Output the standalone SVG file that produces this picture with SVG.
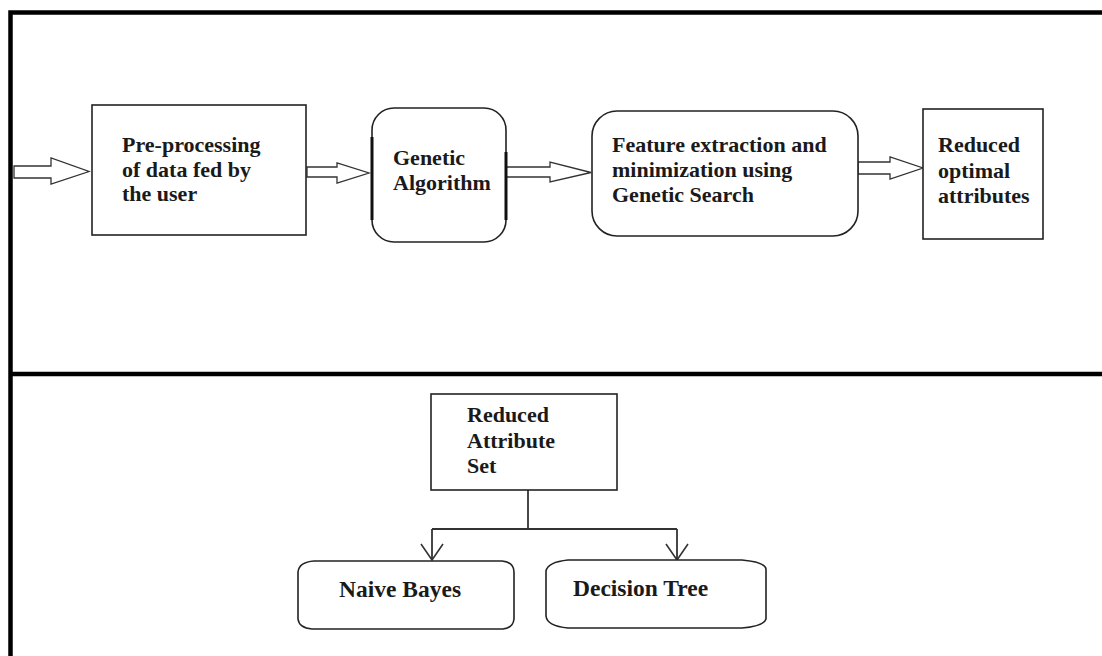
<svg xmlns="http://www.w3.org/2000/svg" width="1102" height="656" viewBox="0 0 1102 656">
  <style>
    .frame { fill: none; stroke: #000; stroke-width: 4.5; }
    .box { fill: #fff; stroke: #222; stroke-width: 1.6; }
    .thick { fill: none; stroke: #111; stroke-width: 3; }
    .harrow { fill: #fff; stroke: #333; stroke-width: 1.3; stroke-linejoin: miter; }
    .wire { fill: none; stroke: #333; stroke-width: 1.8; }
    .label { font-family: "Liberation Serif", "Times New Roman", serif; font-weight: bold; font-size: 22px; fill: #1a1a1a; }
    .label-lg { font-size: 23.5px; }
  </style>
  <defs>
    <marker id="vhead" viewBox="0 0 24 18" refX="12" refY="17" markerWidth="24" markerHeight="18" markerUnits="userSpaceOnUse" orient="0">
      <path d="M1 1 L12 17 L23 1" fill="none" stroke="#333" stroke-width="1.6"/>
    </marker>
  </defs>

  <rect width="1102" height="656" fill="#fff"/>

  <!-- outer frame and section divider -->
  <g id="frame">
    <path class="frame" d="M10.5 656 L10.5 12.5 L1102 12.5"/>
    <path class="frame" d="M10.5 374 L1102 374"/>
  </g>

  <!-- connectors -->
  <g id="connectors">
    <!-- hollow block arrows of the top pipeline -->
    <path class="harrow" d="M14 166 L51 166 L51 158 L89 171.5 L51 184 L51 178 L14 178 Z"/>
    <path class="harrow" d="M307 167 L337 167 L337 163 L369 173 L337 183 L337 177 L307 177 Z"/>
    <path class="harrow" d="M506 167 L550 167 L550 162 L591 172.5 L550 182 L550 177 L506 177 Z"/>
    <path class="harrow" d="M858 162 L890 162 L890 157 L923 168 L890 179 L890 174 L858 174 Z"/>
    <!-- split from the reduced attribute set to the two classifiers -->
    <path class="wire" d="M528 490 L528 529"/>
    <path class="wire" d="M432 529 L677 529"/>
    <path class="wire" d="M432 529 L432 560" marker-end="url(#vhead)"/>
    <path class="wire" d="M677 529 L677 560" marker-end="url(#vhead)"/>
  </g>

  <g id="preprocessing">
    <rect class="box" x="92" y="105" width="214" height="130"/>
    <text class="label" x="122" y="152">Pre-processing</text>
    <text class="label" x="122" y="177">of data fed by</text>
    <text class="label" x="122" y="201">the user</text>
  </g>

  <g id="genetic-algorithm">
    <rect class="box" x="372" y="108" width="134" height="134" rx="22" ry="22"/>
    <path class="thick" d="M372 137 L372 220 M506 152 L506 220"/>
    <text class="label" x="393" y="165">Genetic</text>
    <text class="label" x="393" y="190">Algorithm</text>
  </g>

  <g id="feature-extraction">
    <rect class="box" x="592" y="111" width="266" height="125" rx="25" ry="25"/>
    <text class="label" x="612" y="152">Feature extraction and</text>
    <text class="label" x="612" y="177">minimization using</text>
    <text class="label" x="612" y="202">Genetic Search</text>
  </g>

  <g id="reduced-optimal">
    <rect class="box" x="923" y="109" width="120" height="130"/>
    <text class="label" x="938" y="152">Reduced</text>
    <text class="label" x="938" y="178">optimal</text>
    <text class="label" x="938" y="203">attributes</text>
  </g>

  <g id="reduced-attribute-set">
    <rect class="box" x="431" y="394" width="186" height="96"/>
    <text class="label" x="467" y="422">Reduced</text>
    <text class="label" x="467" y="448">Attribute</text>
    <text class="label" x="467" y="473">Set</text>
  </g>

  <g id="naive-bayes">
    <path class="box" d="M314 561 L502 561 Q514 562 514 572 L514 619 Q513 628 503 629 L312 629 Q299 628 298 619 L298 572 Q299 562 314 561 Z"/>
    <text class="label label-lg" x="339" y="597">Naive Bayes</text>
  </g>

  <g id="decision-tree">
    <path class="box" d="M568 560 L742 560 Q765 562 766 569 L766 619 Q764 626 742 628 L568 628 Q547 626 546 616 L546 571 Q548 562 568 560 Z"/>
    <text class="label label-lg" x="573" y="596">Decision Tree</text>
  </g>
</svg>
